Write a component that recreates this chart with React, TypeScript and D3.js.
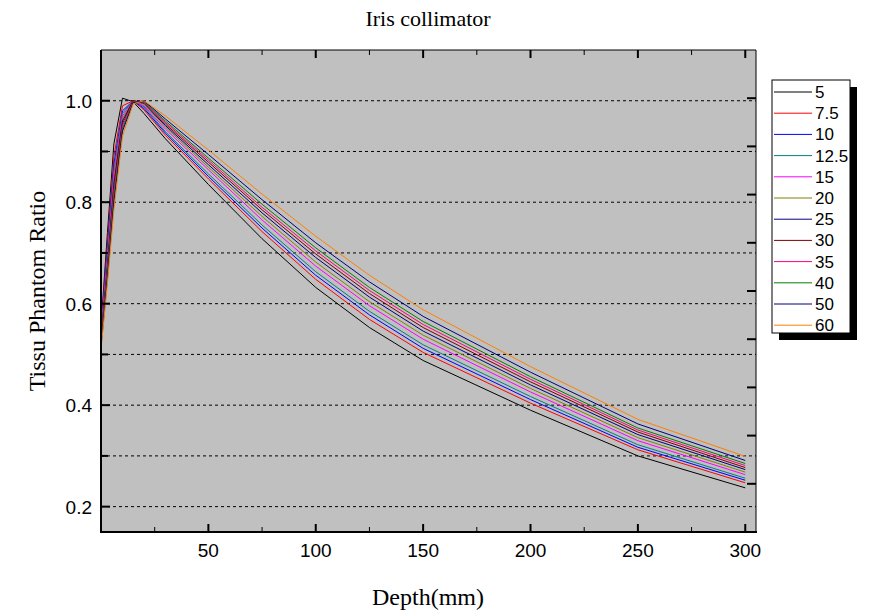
import React from "react";
import * as d3 from "d3";

const depths = [0, 3, 6, 10, 15, 20, 30, 50, 75, 100, 125, 150, 200, 250, 300];

const fieldSizes = ["5", "7.5", "10", "12.5", "15", "20", "25", "30", "35", "40", "50", "60"];

const tpr5 = [0.555, 0.74, 0.915, 1.005, 0.998, 0.975, 0.925, 0.835, 0.728, 0.632, 0.553, 0.488, 0.39, 0.3, 0.237];
const tpr7_5 = [0.55, 0.72, 0.89, 0.99, 1.0, 0.982, 0.932, 0.846, 0.742, 0.648, 0.569, 0.504, 0.404, 0.312, 0.247];
const tpr10 = [0.545, 0.71, 0.875, 0.98, 1.0, 0.985, 0.936, 0.851, 0.749, 0.656, 0.578, 0.512, 0.411, 0.317, 0.252];
const tpr12_5 = [0.54, 0.7, 0.865, 0.975, 1.0, 0.988, 0.939, 0.856, 0.755, 0.663, 0.585, 0.519, 0.417, 0.322, 0.256];
const tpr15 = [0.54, 0.69, 0.855, 0.97, 1.0, 0.99, 0.944, 0.864, 0.765, 0.674, 0.596, 0.53, 0.426, 0.33, 0.263];
const tpr20 = [0.535, 0.68, 0.845, 0.965, 1.0, 0.993, 0.948, 0.869, 0.772, 0.682, 0.604, 0.538, 0.433, 0.336, 0.268];
const tpr25 = [0.53, 0.675, 0.835, 0.96, 1.0, 0.995, 0.951, 0.874, 0.779, 0.691, 0.613, 0.546, 0.44, 0.342, 0.273];
const tpr30 = [0.53, 0.67, 0.83, 0.955, 1.0, 0.997, 0.954, 0.879, 0.785, 0.698, 0.62, 0.553, 0.446, 0.347, 0.277];
const tpr35 = [0.525, 0.665, 0.82, 0.95, 0.998, 0.998, 0.957, 0.883, 0.79, 0.704, 0.626, 0.559, 0.451, 0.351, 0.281];
const tpr40 = [0.52, 0.66, 0.81, 0.945, 0.997, 0.999, 0.96, 0.887, 0.796, 0.71, 0.632, 0.565, 0.456, 0.355, 0.285];
const tpr50 = [0.515, 0.65, 0.8, 0.94, 0.996, 1.0, 0.964, 0.894, 0.805, 0.72, 0.643, 0.575, 0.465, 0.363, 0.291];
const tpr60 = [0.51, 0.64, 0.785, 0.93, 0.994, 1.0, 0.97, 0.903, 0.816, 0.733, 0.656, 0.588, 0.476, 0.372, 0.299];

const seriesValues = [tpr5, tpr7_5, tpr10, tpr12_5, tpr15, tpr20, tpr25, tpr30, tpr35, tpr40, tpr50, tpr60];

const seriesColors = [
  "#000000", "#ff0000", "#0000ff", "#008080", "#ff00ff", "#808000",
  "#000080", "#800000", "#ff0080", "#008000", "#000080", "#ff8000",
];

const xTickLabels = [50, 100, 150, 200, 250, 300];
const yTickLabels = [0.2, 0.4, 0.6, 0.8, 1.0];
const gridValues = [0.2, 0.3, 0.4, 0.5, 0.6, 0.7, 0.8, 0.9, 1.0];

const W = 875;
const H = 613;
const M = { left: 101, top: 50, right: 756, bottom: 532 };

export default function App() {
  const x = d3.scaleLinear().domain([0, 305]).range([M.left, M.right]);
  const y = d3.scaleLinear().domain([0.15, 1.1]).range([M.bottom, M.top]);
  const yRight = d3.scaleLinear().domain([0.1, 1.1]).range([M.bottom, M.top]);

  const line = d3
    .line<[number, number]>()
    .x((d) => x(d[0]))
    .y((d) => y(d[1]));

  const xMinor = d3.range(25, 305, 25);
  const yMinorLeft = d3.range(2, 11).map((v) => v / 10);
  const yRightTicks = d3.range(2, 11).map((v) => v / 10);

  const sans = "'Liberation Sans', Arial, sans-serif";
  const serif = "'Liberation Serif', 'Times New Roman', serif";

  const legendX = 772;
  const legendY = 80;
  const legendW = 78;
  const legendH = 253;
  const rowH = 21.2;

  return (
    <svg width={W} height={H} style={{ display: "block", position: "absolute", left: 0, top: 0 }}>
      <rect x={0} y={0} width={W} height={H} fill="#ffffff" />
      <text x={428} y={26} textAnchor="middle" fontFamily={serif} fontSize={22} fill="#000">
        Iris collimator
      </text>
      <rect x={M.left} y={M.top} width={M.right - M.left} height={M.bottom - M.top} fill="#c0c0c0" />
      {gridValues.map((v) => (
        <line
          key={"g" + v}
          x1={M.left}
          x2={M.right}
          y1={y(v)}
          y2={y(v)}
          stroke="#000"
          strokeWidth={1}
          strokeDasharray="3,3"
        />
      ))}
      <defs>
        <clipPath id="plotclip">
          <rect x={M.left} y={M.top} width={M.right - M.left} height={M.bottom - M.top} />
        </clipPath>
      </defs>
      <g clipPath="url(#plotclip)">
        {seriesValues.map((vals, i) => (
          <path
            key={"s" + i}
            d={line(depths.map((d, j) => [d, vals[j]] as [number, number])) || ""}
            fill="none"
            stroke={seriesColors[i]}
            strokeWidth={1}
          />
        ))}
      </g>
      {/* frame */}
      <line x1={M.left} x2={M.right} y1={M.top} y2={M.top} stroke="#000" strokeWidth={1} />
      <line x1={M.right} x2={M.right} y1={M.top} y2={M.bottom} stroke="#000" strokeWidth={1} />
      <line x1={M.left} x2={M.left} y1={M.top} y2={M.bottom + 1} stroke="#000" strokeWidth={2} />
      <line x1={M.left - 1} x2={M.right + 1} y1={M.bottom} y2={M.bottom} stroke="#000" strokeWidth={2} />
      {/* bottom and top ticks */}
      {xMinor.map((v) => {
        const major = v % 50 === 0;
        return (
          <g key={"xt" + v}>
            <line x1={x(v)} x2={x(v)} y1={M.bottom} y2={M.bottom - (major ? 8 : 5)} stroke="#000" strokeWidth={major ? 2 : 1} />
            <line x1={x(v)} x2={x(v)} y1={M.top} y2={M.top + (major ? 8 : 5)} stroke="#000" strokeWidth={major ? 2 : 1} />
          </g>
        );
      })}
      {xTickLabels.map((v) => (
        <text key={"xl" + v} x={x(v)} y={557} textAnchor="middle" fontFamily={sans} fontSize={19} fill="#000">
          {v}
        </text>
      ))}
      {/* left ticks */}
      {yMinorLeft.map((v) => {
        const major = Math.round(v * 10) % 2 === 0;
        return (
          <line key={"yt" + v} x1={M.left} x2={M.left + (major ? 9 : 7)} y1={y(v)} y2={y(v)} stroke="#000" strokeWidth={2} />
        );
      })}
      {yTickLabels.map((v) => (
        <text key={"yl" + v} x={M.left - 9} y={y(v) + 7} textAnchor="end" fontFamily={sans} fontSize={19} fill="#000">
          {v.toFixed(1)}
        </text>
      ))}
      {/* right ticks */}
      {yRightTicks.map((v) => (
        <line key={"yr" + v} x1={M.right} x2={M.right - 9} y1={yRight(v)} y2={yRight(v)} stroke="#000" strokeWidth={2} />
      ))}
      <text
        transform={`translate(45, ${(M.top + M.bottom) / 2}) rotate(-90)`}
        textAnchor="middle"
        fontFamily={serif}
        fontSize={24}
        fill="#000"
      >
        Tissu Phantom Ratio
      </text>
      <text x={428} y={605} textAnchor="middle" fontFamily={serif} fontSize={24} fill="#000">
        Depth(mm)
      </text>
      {/* legend */}
      <rect x={legendX + 7} y={legendY + 7} width={legendW} height={legendH} fill="#000" />
      <rect x={legendX} y={legendY} width={legendW} height={legendH} fill="#fff" stroke="#000" strokeWidth={1} />
      {fieldSizes.map((name, i) => {
        const cy = legendY + 12 + i * rowH;
        return (
          <g key={"lg" + name}>
            <line x1={legendX + 2} x2={legendX + 40} y1={cy} y2={cy} stroke={seriesColors[i]} strokeWidth={1} />
            <text x={legendX + 43} y={cy + 6} fontFamily={sans} fontSize={17} fill="#000">
              {name}
            </text>
          </g>
        );
      })}
    </svg>
  );
}
